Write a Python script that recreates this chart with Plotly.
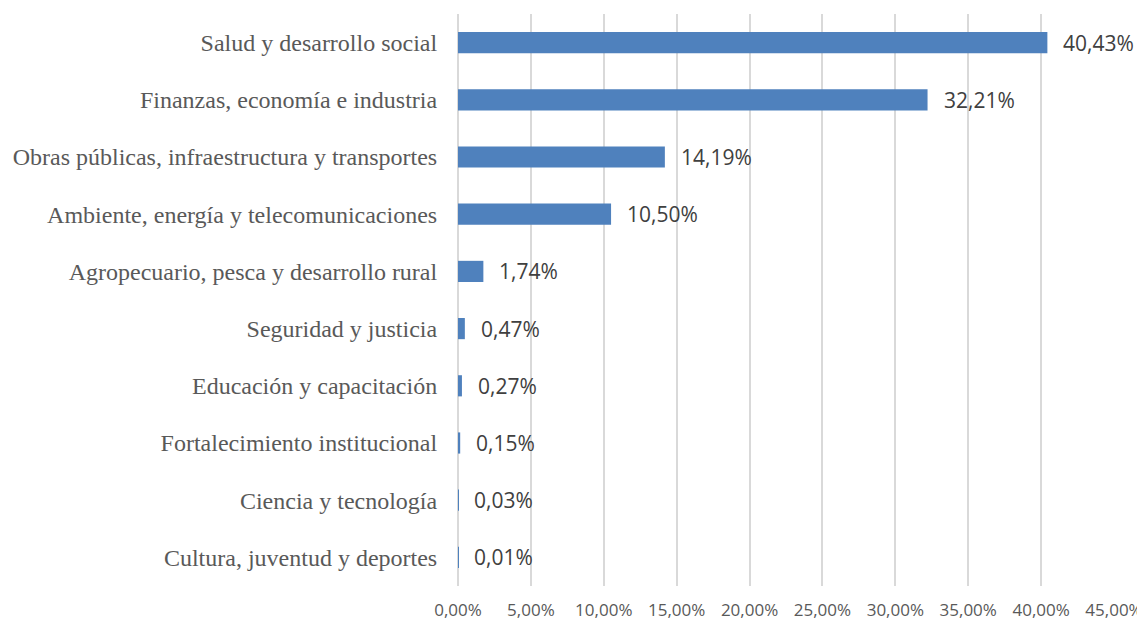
import plotly.graph_objects as go

categories = [
    "Salud y desarrollo social",
    "Finanzas, economía e industria",
    "Obras públicas, infraestructura y transportes",
    "Ambiente, energía y telecomunicaciones",
    "Agropecuario, pesca y desarrollo rural",
    "Seguridad y justicia",
    "Educación y capacitación",
    "Fortalecimiento institucional",
    "Ciencia y tecnología",
    "Cultura, juventud y deportes",
]
values = [40.43, 32.21, 14.19, 10.50, 1.74, 0.47, 0.27, 0.15, 0.03, 0.01]
tick_vals = [0, 5, 10, 15, 20, 25, 30, 35, 40, 45]
tick_text = [f"{v:.2f}%".replace(".", ",") for v in tick_vals]
value_labels = [f"{v:.2f}%".replace(".", ",") for v in values]

fig = go.Figure()
fig.add_trace(go.Bar(
    x=values, y=categories, orientation="h",
    marker=dict(color="#4F81BD", line=dict(width=0)),
    width=0.37,
))

for c, v, t in zip(categories, values, value_labels):
    fig.add_annotation(x=v, y=c, text=t, showarrow=False, xanchor="left",
                       xshift=14, font=dict(family="Open Sans", size=21, color="#404040"))

# page body has an 8px margin: size the figure so it fits the 1145x620 window
fig.update_layout(
    width=1137, height=612,
    margin=dict(l=450, r=31, t=6, b=34, autoexpand=False),
    paper_bgcolor="white", plot_bgcolor="white",
    showlegend=False,
    xaxis=dict(range=[0, 45], tickvals=tick_vals, ticktext=tick_text,
               showgrid=True, gridcolor="#D9D9D9", gridwidth=1.5,
               zeroline=True, zerolinecolor="#D9D9D9", zerolinewidth=1.5,
               showline=False, automargin=False,
               ticks="outside", ticklen=9, tickcolor="rgba(0,0,0,0)",
               tickfont=dict(family="Open Sans", size=17, color="#595959"),
               fixedrange=True),
    yaxis=dict(autorange="reversed", showgrid=False, zeroline=False,
               showline=False, automargin=False, ticks="outside", ticklen=15,
               tickcolor="rgba(0,0,0,0)",
               tickfont=dict(family="Liberation Serif", size=24, color="#595959"),
               fixedrange=True),
)

fig.write_html("out.html")
